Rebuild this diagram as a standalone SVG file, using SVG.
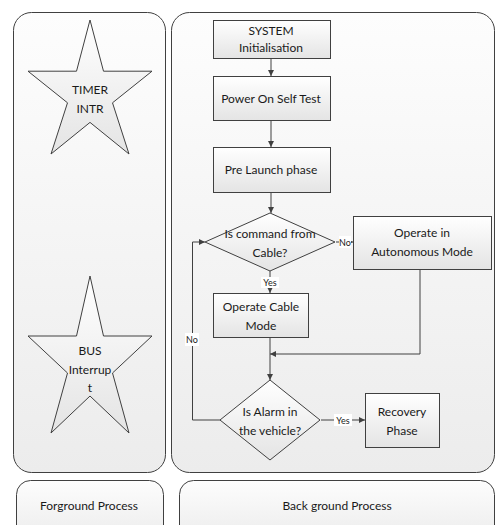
<svg xmlns="http://www.w3.org/2000/svg" width="497" height="525" viewBox="0 0 497 525">
<defs>
<linearGradient id="pg" x1="0" y1="0" x2="0" y2="1"><stop offset="0" stop-color="#fdfdfd"/><stop offset="1" stop-color="#ececec"/></linearGradient>
<linearGradient id="bg" x1="0" y1="0" x2="0" y2="1"><stop offset="0" stop-color="#ffffff"/><stop offset="1" stop-color="#e4e4e4"/></linearGradient>
<marker id="ah" viewBox="0 0 10 10" refX="10" refY="5" markerWidth="6" markerHeight="6" markerUnits="userSpaceOnUse" orient="auto"><path d="M0,0 L10,5 L0,10 z" fill="#404040"/></marker>
</defs>
<style>
.panel{fill:url(#pg);stroke:#404040;stroke-width:1}
.box{fill:url(#bg);stroke:#404040;stroke-width:1}
.t{font-family:Lato,"Open Sans","Liberation Sans",sans-serif;font-size:12px;fill:#1a1a1a;text-anchor:middle}
.s{font-family:Lato,"Open Sans","Liberation Sans",sans-serif;font-size:9px;fill:#1a1a1a;text-anchor:middle}
.c{fill:none;stroke:#404040;stroke-width:1;marker-end:url(#ah)}
.l{fill:none;stroke:#404040;stroke-width:1}
.lb{fill:#ffffff}
</style>
<rect width="497" height="525" fill="#ffffff"/>
<g id="fg-panel"><rect class="panel" x="13.5" y="12.5" width="152" height="460" rx="18" ry="18"/></g>
<g id="bg-panel"><rect class="panel" x="171.5" y="12.5" width="323" height="460" rx="18" ry="18"/></g>
<g id="fg-label"><rect class="panel" x="16.5" y="480.5" width="147" height="60" rx="14" ry="14"/><text class="t" x="89" y="510">Forground Process</text></g>
<g id="bg-label"><rect class="panel" x="179.5" y="480.5" width="315" height="60" rx="14" ry="14"/><text class="t" x="337" y="510">Back ground Process</text></g>
<g id="timer">
<polygon class="box" points="90,20 103.5,71.2 152,71.2 112.5,102.8 129,154 90,122.4 51,154 67.5,102.8 28,71.2 76.5,71.2"/>
<text class="t" x="90" y="94">TIMER</text><text class="t" x="90" y="113">INTR</text>
</g>
<g id="bus">
<polygon class="box" points="90,276 103.5,336 152,336 112.5,373 129,433 90,396 51,433 67.5,373 28,336 76.5,336"/>
<text class="t" x="90" y="355">BUS</text><text class="t" x="90" y="374">Interrup</text><text class="t" x="90" y="392">t</text>
</g>
<g id="connectors">
<line class="c" x1="271" y1="59" x2="271" y2="76"/>
<line class="c" x1="271" y1="121" x2="271" y2="147"/>
<line class="c" x1="271" y1="192" x2="271" y2="213"/>
<line class="c" x1="336" y1="242" x2="353" y2="242"/>
<line class="c" x1="270" y1="271" x2="270" y2="293"/>
<polyline class="c" points="420,269 420,354 270,354"/>
<line class="c" x1="270" y1="338" x2="270" y2="380"/>
<line class="c" x1="321" y1="420" x2="365" y2="420"/>
<polyline class="c" points="221,420 192.5,420 192.5,242 205,242"/>
<rect class="lb" x="339" y="236" width="12" height="12"/><text class="s" x="345" y="245.5">No</text>
<rect class="lb" x="261" y="277" width="18" height="11"/><text class="s" x="270" y="286">Yes</text>
<rect class="lb" x="334" y="414" width="18" height="12"/><text class="s" x="343" y="423.5">Yes</text>
<rect class="lb" x="185" y="333" width="14" height="13"/><text class="s" x="192" y="343">No</text>
</g>
<g id="sys"><rect class="box" x="213.5" y="20.5" width="117" height="38"/><text class="t" x="271" y="35">SYSTEM</text><text class="t" x="271" y="52">Initialisation</text></g>
<g id="post"><rect class="box" x="213.5" y="76.5" width="117" height="44"/><text class="t" x="271" y="103">Power On Self Test</text></g>
<g id="prelaunch"><rect class="box" x="213.5" y="147.5" width="117" height="45"/><text class="t" x="271" y="174">Pre Launch phase</text></g>
<g id="cmd"><polygon class="box" points="270,213 335,242 270,271 205,242"/><text class="t" x="270" y="238">Is command from</text><text class="t" x="270" y="257">Cable?</text></g>
<g id="auto"><rect class="box" x="353.5" y="216.5" width="138" height="53"/><text class="t" x="422" y="237">Operate in</text><text class="t" x="422" y="256">Autonomous Mode</text></g>
<g id="cable"><rect class="box" x="213.5" y="293.5" width="95" height="44"/><text class="t" x="261" y="311">Operate Cable</text><text class="t" x="261" y="330">Mode</text></g>
<g id="alarm"><polygon class="box" points="270,380 320,420 270,460 220,420"/><text class="t" x="270" y="416">Is Alarm in</text><text class="t" x="270" y="435">the vehicle?</text></g>
<g id="recovery"><rect class="box" x="365.5" y="393.5" width="74" height="54"/><text class="t" x="402" y="416">Recovery</text><text class="t" x="402" y="435">Phase</text></g>
</svg>
